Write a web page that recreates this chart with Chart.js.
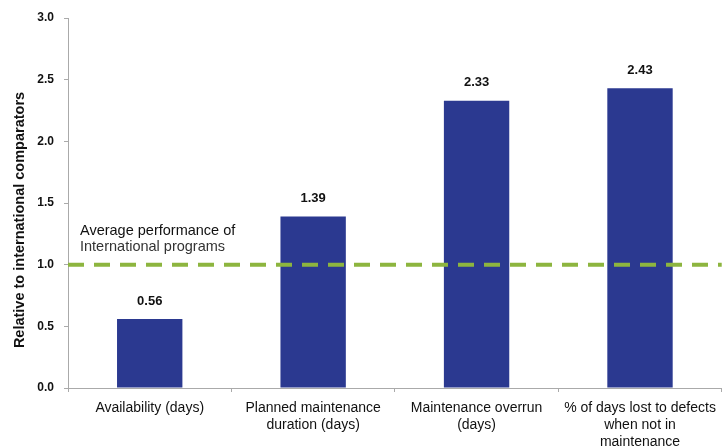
<!DOCTYPE html>
<html><head><meta charset="utf-8">
<script src="https://cdn.jsdelivr.net/npm/chart.js@4/dist/chart.umd.min.js"></script>
<style>html,body{margin:0;padding:0;background:#fff}#wrap{width:724px;height:447px}</style>
</head><body><div id="wrap"><canvas id="c" width="724" height="447"></canvas></div>
<script>
const categories = [
  ["Availability (days)"],
  ["Planned maintenance", "duration (days)"],
  ["Maintenance overrun", "(days)"],
  ["% of days lost to defects", "when not in", "maintenance"]
];
const values = [0.56, 1.39, 2.33, 2.43];
const valueLabels = ["0.56", "1.39", "2.33", "2.43"];
const benchmark = 1.0;
const benchmarkLabel = ["Average performance of", "International programs"];
const yTitle = "Relative to international comparators";

const FONT = "'Liberation Sans', Arial, sans-serif";

const overlay = {
  id: 'overlay',
  afterDatasetsDraw(chart) {
    const ctx = chart.ctx, y = chart.scales.y, a = chart.chartArea;
    const meta = chart.getDatasetMeta(0);
    ctx.save();
    ctx.fillStyle = '#111';
    ctx.font = "bold 13px " + FONT;
    ctx.textAlign = 'center';
    ctx.textBaseline = 'middle';
    meta.data.forEach((bar, i) => {
      ctx.fillText(valueLabels[i], bar.x, bar.y - 18);
    });
    // benchmark line
    const yy = y.getPixelForValue(benchmark);
    ctx.strokeStyle = '#8db53f';
    ctx.lineWidth = 4;
    ctx.setLineDash([16, 10]);
    ctx.beginPath();
    ctx.moveTo(a.left, yy);
    ctx.lineTo(a.right, yy);
    ctx.stroke();
    ctx.setLineDash([]);
    ctx.font = "14.5px " + FONT;
    ctx.textAlign = 'left';
    ctx.fillStyle = '#111';
    ctx.fillText(benchmarkLabel[0], a.left + 12, yy - 34);
    ctx.fillStyle = '#333';
    ctx.fillText(benchmarkLabel[1], a.left + 12, yy - 18);
    // y axis title
    ctx.translate(20, 220);
    ctx.rotate(-Math.PI / 2);
    ctx.textAlign = 'center';
    ctx.fillStyle = '#111';
    ctx.font = "bold 14.5px " + FONT;
    ctx.fillText(yTitle, 0, 0);
    ctx.restore();
  }
};

new Chart(document.getElementById('c'), {
  type: 'bar',
  data: {
    labels: categories,
    datasets: [{
      data: values,
      backgroundColor: '#2b3990',
      borderWidth: 0,
      categoryPercentage: 1.0,
      barPercentage: 0.40
    }]
  },
  options: {
    responsive: false,
    animation: false,
    events: [],
    layout: { padding: { top: 18, right: 1, left: 0, bottom: 0 } },
    plugins: { legend: { display: false }, tooltip: { enabled: false } },
    scales: {
      x: {
        grid: { display: true, drawOnChartArea: false, drawTicks: true, tickLength: 4, color: '#aaa', offset: true },
        border: { color: '#aaa', width: 1 },
        ticks: { color: '#111', font: { family: FONT, size: 14, lineHeight: 1.2 }, maxRotation: 0, autoSkip: false, padding: 8 },
        afterFit(s) { s.height = 59; }
      },
      y: {
        min: 0, max: 3.0,
        grid: { display: true, drawOnChartArea: false, drawTicks: true, tickLength: 4, color: '#aaa' },
        border: { color: '#aaa', width: 1 },
        ticks: { stepSize: 0.5, color: '#111', font: { family: FONT, size: 12, weight: 'bold' }, padding: 10,
          callback: v => v.toFixed(1) },
        title: { display: false },
        afterFit(s) { s.width = 68; }
      }
    }
  },
  plugins: [overlay]
});
</script></body></html>
